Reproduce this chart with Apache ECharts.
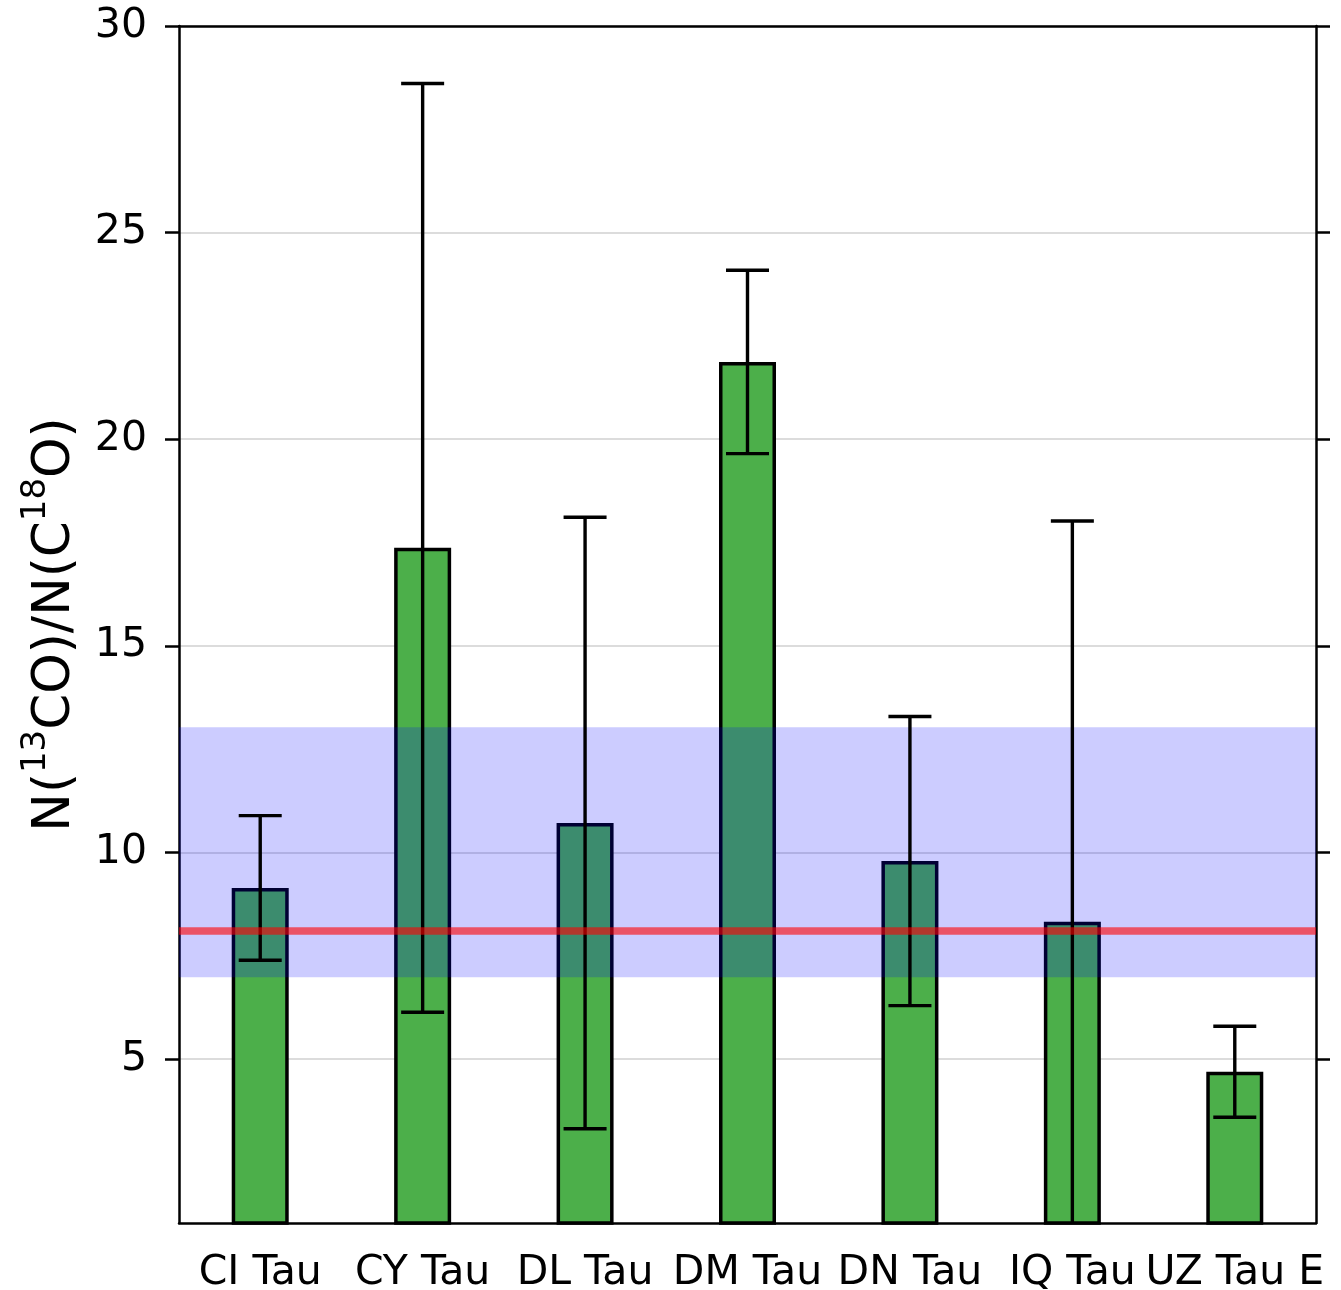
<!DOCTYPE html>
<html>
<head>
<meta charset="utf-8">
<script src="https://cdn.jsdelivr.net/npm/echarts@6/dist/echarts.min.js"></script>
<style>
  html, body { margin: 0; padding: 0; background: #fff; }
  #chart { width: 1341px; height: 1290px; }
</style>
</head>
<body>
<div id="chart"></div>
<script>
// ---- data ----
const categories = ['CI Tau', 'CY Tau', 'DL Tau', 'DM Tau', 'DN Tau', 'IQ Tau', 'UZ Tau E'];
const ratios = [9.14, 17.37, 10.71, 21.87, 9.79, 8.32, 4.69];
const ratioErrors = [1.75, 11.24, 7.40, 2.22, 3.50, 9.70, 1.10];
const bandRange = [6.98, 13.03];
const referenceRatio = 8.1;
const yTicks = [5, 10, 15, 20, 25, 30];
const yMin = 1.03, yMax = 30;

const FONT = 'DejaVu Sans';
const chart = echarts.init(document.getElementById('chart'), null, { renderer: 'canvas' });

const errData = categories.map((c, i) => [i, ratios[i], ratioErrors[i]]);

const option = {
  animation: false,
  backgroundColor: '#ffffff',
  grid: { left: 179, right: 25, top: 26, bottom: 67, outerBoundsMode: 'none', containLabel: false },
  xAxis: [
    {
      type: 'category',
      data: categories,
      position: 'bottom',
      axisLine: { show: true, lineStyle: { color: '#000', width: 2.5 } },
      axisTick: { show: false },
      axisLabel: { interval: 0, fontFamily: FONT, fontSize: 41, color: '#000', margin: 30 },
      splitLine: { show: false }
    },
    {
      type: 'category',
      data: categories,
      position: 'top',
      axisLine: { show: true, lineStyle: { color: '#000', width: 2.5 } },
      axisTick: { show: false },
      axisLabel: { show: false },
      splitLine: { show: false }
    }
  ],
  yAxis: [
    {
      type: 'value',
      min: yMin,
      max: yMax,
      position: 'left',
      name: 'N({s|13}CO)/N(C{s|18}O)',
      nameLocation: 'middle',
      nameRotate: 90,
      nameGap: 86,
      nameTextStyle: {
        fontFamily: FONT, fontSize: 51.5, color: '#000',
        rich: { s: { fontFamily: FONT, fontSize: 34, color: '#000', padding: [0, 0, 40, 0] } }
      },
      axisLine: { show: true, lineStyle: { color: '#000', width: 2.5 } },
      axisTick: { show: true, inside: false, length: 14, lineStyle: { color: '#000', width: 2.5 }, customValues: yTicks },
      axisLabel: { fontFamily: FONT, fontSize: 41, color: '#000', margin: 32, padding: [6, 0, 0, 0], customValues: yTicks },
      splitLine: { show: true, lineStyle: { color: '#dcdcdc', width: 2 } }
    },
    {
      type: 'value',
      min: yMin,
      max: yMax,
      position: 'right',
      axisLine: { show: true, lineStyle: { color: '#000', width: 2.5 } },
      axisTick: { show: true, inside: false, length: 14, lineStyle: { color: '#000', width: 2.5 }, customValues: yTicks },
      axisLabel: { show: false },
      splitLine: { show: false }
    }
  ],
  series: [
    {
      name: 'ratio',
      type: 'bar',
      data: ratios,
      barWidth: 57,
      z: 2,
      itemStyle: { color: '#4caf4a', borderColor: '#000', borderWidth: 3.5 }
    },
    {
      name: 'band',
      type: 'custom',
      z: 3,
      silent: true,
      data: [bandRange],
      encode: { y: [0, 1] },
      renderItem: function (params, api) {
        const cs = params.coordSys;
        const y1 = api.coord([0, api.value(1)])[1];
        const y0 = api.coord([0, api.value(0)])[1];
        return {
          type: 'rect',
          shape: { x: cs.x, y: y1, width: cs.width, height: y0 - y1 },
          style: { fill: 'rgba(0,0,255,0.2)' }
        };
      }
    },
    {
      name: 'errors',
      type: 'custom',
      z: 4,
      silent: true,
      data: errData,
      encode: { x: 0, y: 1 },
      renderItem: function (params, api) {
        const cs = params.coordSys;
        const idx = api.value(0), v = api.value(1), e = api.value(2);
        const top = api.coord([idx, v + e]);
        const bot = api.coord([idx, v - e]);
        const bottomEdge = cs.y + cs.height;
        const half = 21.5;
        const ls = { stroke: '#000', lineWidth: 3.4 };
        const children = [];
        const yb = Math.min(bot[1], bottomEdge);
        children.push({ type: 'line', shape: { x1: top[0], y1: top[1], x2: top[0], y2: yb }, style: ls });
        children.push({ type: 'line', shape: { x1: top[0] - half, y1: top[1], x2: top[0] + half, y2: top[1] }, style: ls });
        if (bot[1] <= bottomEdge) {
          children.push({ type: 'line', shape: { x1: bot[0] - half, y1: bot[1], x2: bot[0] + half, y2: bot[1] }, style: ls });
        }
        return { type: 'group', children: children };
      }
    },
    {
      name: 'reference',
      type: 'custom',
      z: 5,
      silent: true,
      data: [[referenceRatio]],
      encode: { y: 0 },
      renderItem: function (params, api) {
        const cs = params.coordSys;
        const y = api.coord([0, api.value(0)])[1];
        return {
          type: 'line',
          shape: { x1: cs.x, y1: y, x2: cs.x + cs.width, y2: y },
          style: { stroke: 'rgba(255,0,0,0.6)', lineWidth: 7.5 }
        };
      }
    }
  ]
};
chart.setOption(option);
</script>
</body>
</html>
